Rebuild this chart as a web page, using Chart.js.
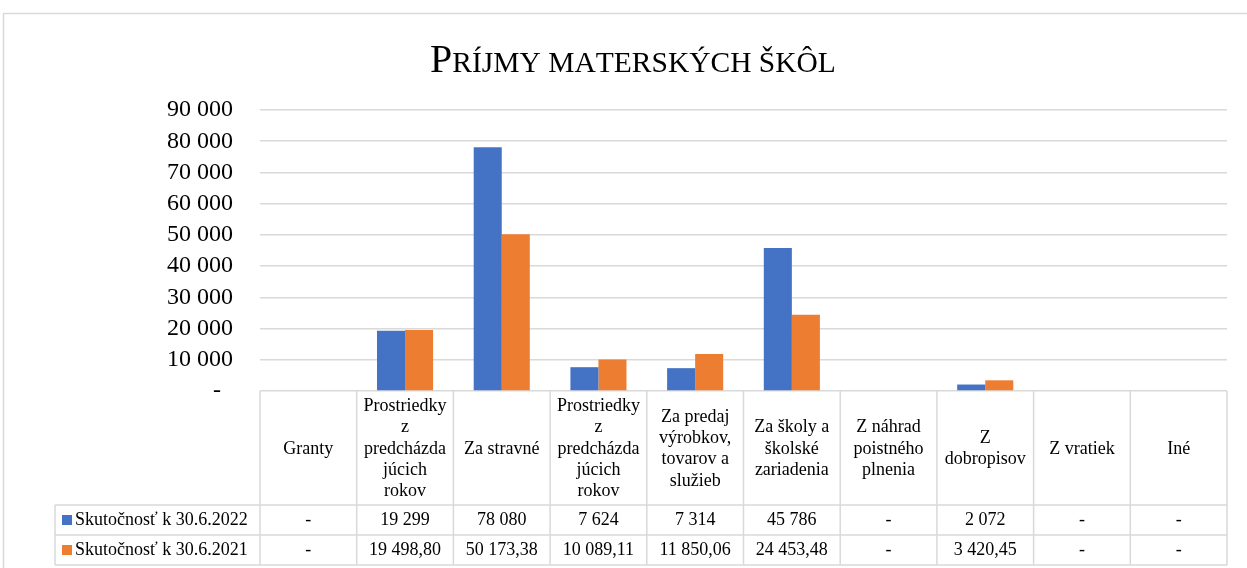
<!DOCTYPE html>
<html>
<head>
<meta charset="utf-8">
<script src="https://cdn.jsdelivr.net/npm/chart.js"></script>
<style>
  html, body { margin: 0; padding: 0; background: #fff; }
</style>
</head>
<body>
<canvas id="barChart" width="1247" height="568"></canvas>
<script>
const chartTitle = 'Príjmy materských škôl';
const categories = [
  ['Granty'],
  ['Prostriedky', 'z', 'predcházda', 'júcich', 'rokov'],
  ['Za stravné'],
  ['Prostriedky', 'z', 'predcházda', 'júcich', 'rokov'],
  ['Za predaj', 'výrobkov,', 'tovarov a', 'služieb'],
  ['Za školy a', 'školské', 'zariadenia'],
  ['Z náhrad', 'poistného', 'plnenia'],
  ['Z', 'dobropisov'],
  ['Z vratiek'],
  ['Iné']
];
const seriesLabels = ['Skutočnosť k 30.6.2022', 'Skutočnosť k 30.6.2021'];
const values2022 = [0, 19299, 78080, 7624, 7314, 45786, 0, 2072, 0, 0];
const values2021 = [0, 19498.80, 50173.38, 10089.11, 11850.06, 24453.48, 0, 3420.45, 0, 0];
const decimals = [0, 2];
const yMax = 90000;
const yStep = 10000;

const colors = ['#4472C4', '#ED7D31'];
const serif = "'Liberation Serif', 'Times New Roman', serif";

// slovak number format: space thousands, comma decimals, dash for zero
const formatNum = (v, dec) => {
  if (!v) return '-';
  const parts = v.toFixed(dec).split('.');
  const int = parts[0].replace(/\B(?=(\d{3})+(?!\d))/g, ' ');
  return parts[1] ? int + ',' + parts[1] : int;
};

const framePlugin = {
  id: 'frame',
  beforeDraw(chart) {
    const ctx = chart.ctx;
    ctx.save();
    ctx.strokeStyle = '#d9d9d9';
    ctx.lineWidth = 1.5;
    ctx.strokeRect(3.5, 13.5, 1300, 700);

    // title in small caps, drawn by hand
    const big = 40, small = 29.5;
    const runs = [];
    for (const ch of chartTitle) {
      const isUpper = ch !== ' ' && ch === ch.toUpperCase();
      runs.push({ t: ch.toUpperCase(), size: isUpper ? big : small });
    }
    let total = 0;
    runs.forEach(r => {
      ctx.font = r.size + 'px ' + serif;
      r.w = ctx.measureText(r.t).width;
      total += r.w;
    });
    let x = 633 - total / 2;
    ctx.fillStyle = '#000';
    ctx.textBaseline = 'alphabetic';
    ctx.textAlign = 'left';
    runs.forEach(r => {
      ctx.font = r.size + 'px ' + serif;
      ctx.fillText(r.t, x, 72);
      x += r.w;
    });
    ctx.restore();
  }
};

const tablePlugin = {
  id: 'dataTable',
  afterDraw(chart) {
    const { ctx, chartArea: a } = chart;
    const n = categories.length;
    const w = (a.right - a.left) / n;
    const top = a.bottom;
    const headH = 114, rowH = 30, legLeft = 55;
    const bottom = top + headH + rowH * 2;

    ctx.save();
    ctx.strokeStyle = '#d9d9d9';
    ctx.lineWidth = 1.5;
    ctx.beginPath();
    for (let i = 0; i <= n; i++) {
      const xx = a.left + i * w;
      ctx.moveTo(xx, top);
      ctx.lineTo(xx, bottom);
    }
    ctx.moveTo(legLeft, top + headH);
    ctx.lineTo(legLeft, bottom);
    for (let r = 0; r <= 2; r++) {
      const yy = top + headH + r * rowH;
      ctx.moveTo(legLeft, yy);
      ctx.lineTo(a.right, yy);
    }
    ctx.stroke();

    ctx.fillStyle = '#000';
    ctx.font = '18px ' + serif;
    ctx.textAlign = 'center';
    ctx.textBaseline = 'middle';
    const lh = 21.3;
    categories.forEach((lines, i) => {
      const cx = a.left + (i + 0.5) * w;
      const cy = top + headH / 2 + 1;
      lines.forEach((line, j) => {
        ctx.fillText(line, cx, cy + (j - (lines.length - 1) / 2) * lh);
      });
    });

    const series = [values2022, values2021];
    series.forEach((vals, s) => {
      const cy = top + headH + (s + 0.5) * rowH;
      vals.forEach((v, i) => {
        ctx.fillText(formatNum(v, decimals[s]), a.left + (i + 0.5) * w, cy);
      });
      ctx.fillStyle = colors[s];
      ctx.fillRect(62, cy - 5, 10, 10);
      ctx.fillStyle = '#000';
      ctx.textAlign = 'left';
      ctx.fillText(seriesLabels[s], 75, cy);
      ctx.textAlign = 'center';
    });
    ctx.restore();
  }
};

new Chart(document.getElementById('barChart'), {
  type: 'bar',
  data: {
    labels: categories,
    datasets: [
      { label: seriesLabels[0], data: values2022, backgroundColor: colors[0] },
      { label: seriesLabels[1], data: values2021, backgroundColor: colors[1] }
    ]
  },
  options: {
    responsive: false,
    animation: false,
    categoryPercentage: 0.58,
    barPercentage: 1,
    layout: { padding: { top: 110, bottom: 177, left: 0, right: 20 } },
    plugins: {
      legend: { display: false },
      title: { display: false },
      tooltip: { enabled: false }
    },
    scales: {
      x: { display: false },
      y: {
        min: 0,
        max: yMax,
        border: { display: false },
        grid: { color: '#d9d9d9', lineWidth: 1.5, drawTicks: false },
        afterFit: (scale) => { scale.width = 260; },
        ticks: {
          stepSize: yStep,
          autoSkip: false,
          padding: 27,
          color: '#000',
          font: { family: serif, size: 24 },
          callback: (v) => v === 0 ? '-  ' : formatNum(v, 0)
        }
      }
    }
  },
  plugins: [framePlugin, tablePlugin]
});
</script>
</body>
</html>
